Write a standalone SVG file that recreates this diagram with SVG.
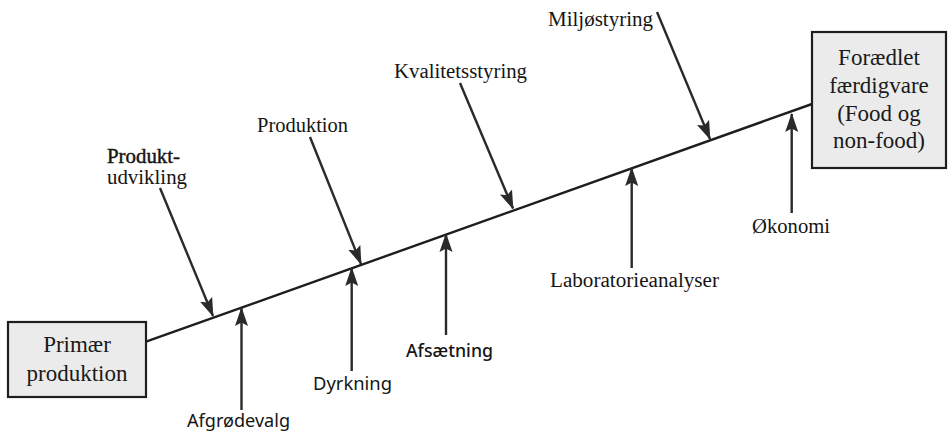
<svg xmlns="http://www.w3.org/2000/svg" width="948" height="433" viewBox="0 0 948 433">
<style>
.box{fill:#ebebeb;stroke:#1e1e1e;stroke-width:2.2}
.t{font-family:"Liberation Serif","Times New Roman",serif;font-size:20px;fill:#151515}
.bt{font-family:"Liberation Serif","Times New Roman",serif;font-size:23px;fill:#1a1a1a;text-anchor:middle}
.s{font-family:"Noto Sans","Open Sans",sans-serif;font-size:18px;fill:#151515}
.spine{stroke:#1e1e1e;stroke-width:2.4;fill:none}
.ar{stroke:#2a2a2a;stroke-width:2.4;fill:none;marker-end:url(#ah)}
</style>
<defs>
<marker id="ah" markerUnits="userSpaceOnUse" viewBox="0 -7 19 14" refX="18" refY="0" markerWidth="19" markerHeight="14" orient="auto">
<path d="M0,-6.5 L19,0 L0,6.5 L3.5,0 z" fill="#2a2a2a"/>
</marker>
</defs>
<rect width="948" height="433" fill="#ffffff"/>
<g id="connectors">
<line class="spine" x1="146" y1="341.7" x2="812" y2="104"/>
<line class="ar" x1="160" y1="188" x2="213" y2="316"/>
<line class="ar" x1="310" y1="137" x2="361" y2="264"/>
<line class="ar" x1="460" y1="83" x2="513" y2="208.5"/>
<line class="ar" x1="657" y1="12" x2="710" y2="139"/>
<line class="ar" x1="241.5" y1="410" x2="241.5" y2="308"/>
<line class="ar" x1="351.7" y1="371" x2="351.7" y2="268"/>
<line class="ar" x1="446" y1="335" x2="446" y2="234"/>
<line class="ar" x1="631.7" y1="268" x2="631.7" y2="168"/>
<line class="ar" x1="791.7" y1="213" x2="791.7" y2="114"/>
</g>
<g id="primaer">
<rect class="box" x="8" y="322" width="138" height="75"/>
<text class="bt" x="77" y="352">Primær</text>
<text class="bt" x="77" y="381">produktion</text>
</g>
<g id="foraedlet">
<rect class="box" x="812" y="32" width="134" height="136"/>
<text class="bt" x="879" y="65">Forædlet</text>
<text class="bt" x="879" y="93">færdigvare</text>
<text class="bt" x="879" y="121">(Food og</text>
<text class="bt" x="879" y="148">non-food)</text>
</g>
<g id="produktudvikling">
<text class="t" x="107" y="163" font-size="18" textLength="73" lengthAdjust="spacingAndGlyphs" stroke="#151515" stroke-width="0.4">Produkt-</text>
<text class="t" x="107" y="184" font-size="19" textLength="80" lengthAdjust="spacingAndGlyphs">udvikling</text>
</g>
<g id="produktion"><text class="t" x="257" y="131.7" textLength="91" lengthAdjust="spacingAndGlyphs">Produktion</text></g>
<g id="kvalitetsstyring"><text class="t" x="394" y="78" textLength="133" lengthAdjust="spacingAndGlyphs">Kvalitetsstyring</text></g>
<g id="miljostyring"><text class="t" x="548" y="26" textLength="105" lengthAdjust="spacingAndGlyphs">Miljøstyring</text></g>
<g id="afgrodevalg"><text class="s" x="187" y="426.5" textLength="103" lengthAdjust="spacingAndGlyphs">Afgrødevalg</text></g>
<g id="dyrkning"><text class="s" x="313" y="390" textLength="79" lengthAdjust="spacingAndGlyphs">Dyrkning</text></g>
<g id="afsaetning"><text class="s" x="406" y="357" textLength="87" lengthAdjust="spacingAndGlyphs" font-weight="500">Afsætning</text></g>
<g id="laboratorieanalyser"><text class="t" x="550" y="286.7" textLength="169" lengthAdjust="spacingAndGlyphs">Laboratorieanalyser</text></g>
<g id="okonomi"><text class="t" x="752" y="233" textLength="78" lengthAdjust="spacingAndGlyphs">Økonomi</text></g>
</svg>
